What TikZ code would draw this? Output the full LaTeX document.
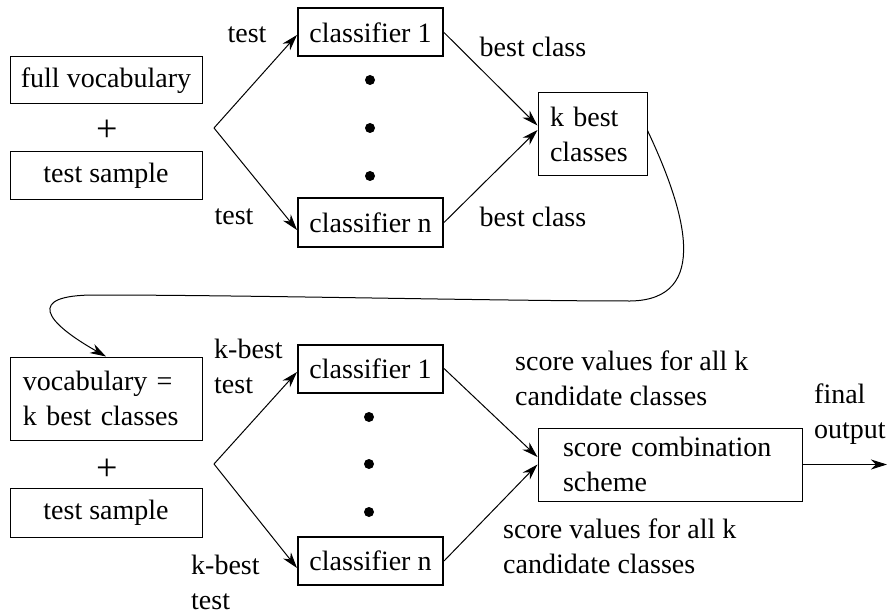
\documentclass[tikz,border=0pt]{standalone}
\usepackage{fontspec}
\setmainfont{Liberation Serif}
\usetikzlibrary{arrows.meta,calc}
\begin{document}
\begin{tikzpicture}[x=1pt,y=-1pt,
  every node/.style={font=\fontsize{28}{35}\selectfont, inner sep=0pt},
  box/.style={draw, line width=1pt, minimum width=192pt},
  clf/.style={draw, line width=2pt, minimum width=145pt, minimum height=48pt},
  lbl/.style={align=left, anchor=west},
  plus/.style={font=\fontsize{38}{38}\selectfont},
  dot/.style={circle, fill, minimum size=10pt},
  link/.style={line width=1pt, -{Stealth[length=16pt,width=10pt,inset=5pt]}}]
\useasboundingbox (0,0) rectangle (887,615);

% ---------- first stage ----------
\node[box, minimum height=47pt] (fv) at (106,80.5) {full vocabulary};
\node[plus] (p1) at (107,131) {+};
\node[box, minimum height=48pt] (ts1) at (106,176) {test sample};
\coordinate (br1) at (214,128);

\node[clf] (c1) at (370.5,32.5) {classifier 1};
\node[clf] (cn) at (370.5,222.5) {classifier n};
\node[dot] (d1) at (370,80) {};
\node[dot] (d2) at (370,128) {};
\node[dot] (d3) at (370,176) {};

\node[draw, line width=1pt, minimum width=109pt, minimum height=83pt,
      text width=85pt, align=left, inner xsep=12pt] (kb) at (592.5,134.5) {k best\\classes};

\draw[line width=1pt] (br1) edge[link] ($(c1.west)+(0,2.5)$)
                      (br1) edge[link] ($(cn.west)+(0,7.5)$);
\node (t1) at (247,35) {test};
\node (t2) at (234,217) {test};

\draw[link] (c1.east) -- ($(kb.west)+(0,-9)$);
\draw[link] (cn.east) -- ($(kb.west)+(0,-4.5)$);
\node (bc1) at (533,47) {best class};
\node (bc2) at (533,217) {best class};

% ---------- second stage ----------
\node[box, minimum height=83pt, text width=166pt, align=left, inner xsep=13pt]
      (voc) at (106,398.5) {vocabulary =\\k best classes};
\node[plus] (p2) at (107,470) {+};
\node[box, minimum height=49pt] (ts2) at (106,512.5) {test sample};
\coordinate (br2) at (214,464);

% ---------- feedback curve ----------
\draw[link] ($(kb.east)+(0,-4)$) .. controls (685,210) and (712,300) .. (630,301)
  .. controls (500,301) and (250,295) .. (95,295)
  .. controls (25,295) and (45,322) .. (voc.north);

\node[clf] (c1b) at (370.5,368.5) {classifier 1};
\node[clf] (cnb) at (370.5,561) {classifier n};
\node[dot] (d4) at (369,417) {};
\node[dot] (d5) at (369,464) {};
\node[dot] (d6) at (369,512) {};

\draw[line width=1pt] (br2) edge[link] ($(c1b.west)+(0,3.5)$)
                      (br2) edge[link] ($(cnb.west)+(0,7)$);
\node[lbl] (kt1) at (214,366) {k-best\\test};
\node[lbl] (kt2) at (191,582) {k-best\\test};

\node[draw, line width=1pt, minimum width=264pt, minimum height=73pt,
      text width=214pt, align=left, inner xsep=25pt] (sc) at (670,464.5)
      {score combination\\scheme};

\draw[link] (c1b.east) -- ($(sc.west)+(0,-7.5)$);
\draw[link] (cnb.east) -- (sc.west);
\node[lbl] (sv1) at (515,378) {score values for all k\\candidate classes};
\node[lbl] (sv2) at (503,546) {score values for all k\\candidate classes};

\coordinate (out) at (887,464.5);
\draw[link] (sc.east) -- (out);
\node[lbl] (fo) at (814,414) {final\\output};
\end{tikzpicture}
\end{document}
